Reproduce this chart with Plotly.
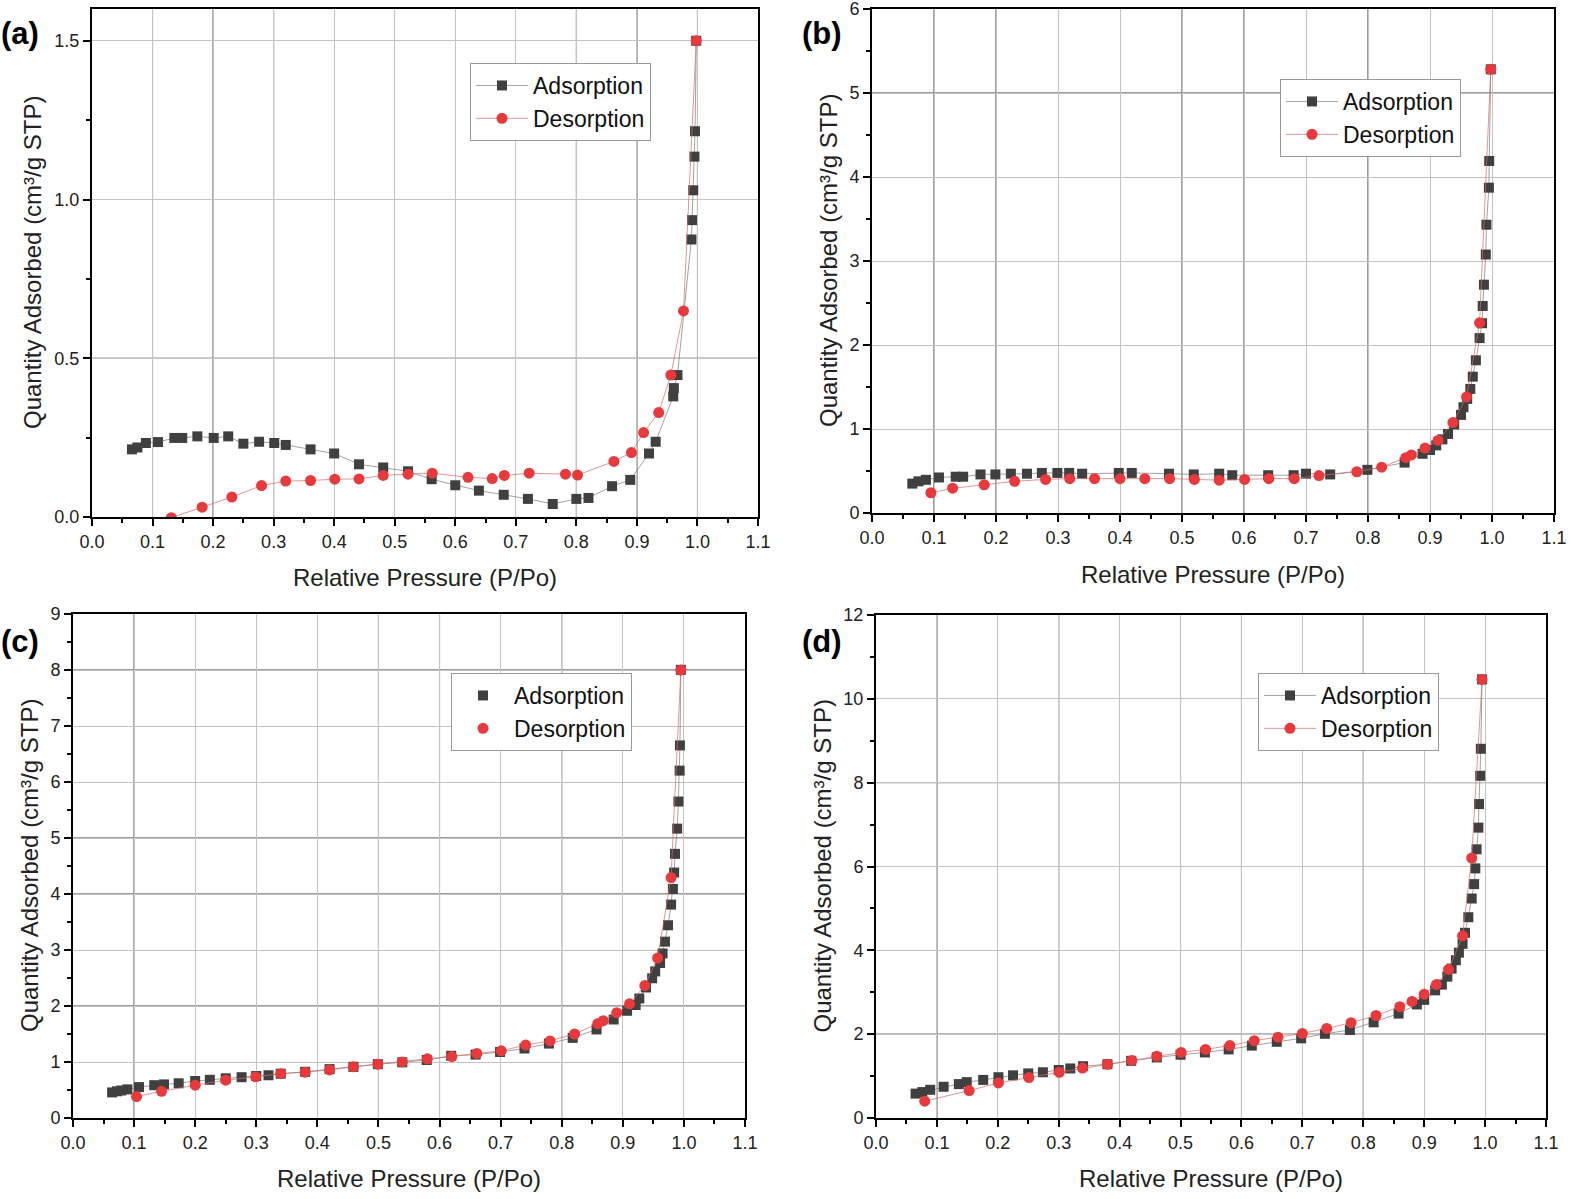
import plotly.graph_objects as go

W, H = 1571, 1199

# ---------------- data ----------------
# (a)
a_ads_x = [0.066, 0.075, 0.089, 0.109, 0.136, 0.149, 0.174, 0.201, 0.225, 0.250, 0.276, 0.301, 0.320,
           0.361, 0.400, 0.441, 0.481, 0.522, 0.561, 0.600, 0.639, 0.680, 0.720, 0.761, 0.800, 0.820,
           0.859, 0.889, 0.920, 0.931, 0.960, 0.961, 0.967, 0.990, 0.991, 0.993, 0.995, 0.996, 0.998]
a_ads_y = [0.213, 0.219, 0.233, 0.236, 0.249, 0.249, 0.254, 0.249, 0.254, 0.231, 0.237, 0.233, 0.227,
           0.213, 0.200, 0.166, 0.156, 0.144, 0.119, 0.100, 0.083, 0.070, 0.057, 0.041, 0.057, 0.060,
           0.097, 0.117, 0.200, 0.237, 0.380, 0.406, 0.447, 0.874, 0.935, 1.029, 1.135, 1.215, 1.500]
a_des_x = [0.998, 0.977, 0.956, 0.936, 0.911, 0.891, 0.862, 0.802, 0.782, 0.722, 0.681, 0.661, 0.621,
           0.562, 0.522, 0.481, 0.441, 0.401, 0.361, 0.320, 0.280, 0.231, 0.182, 0.131]
a_des_y = [1.500, 0.649, 0.447, 0.329, 0.266, 0.203, 0.175, 0.132, 0.135, 0.138, 0.131, 0.121, 0.125,
           0.138, 0.135, 0.131, 0.120, 0.119, 0.115, 0.113, 0.099, 0.063, 0.031, -0.002]

# (b)
b_ads_x = [0.065, 0.075, 0.087, 0.108, 0.135, 0.147, 0.175, 0.199, 0.224, 0.250, 0.274, 0.299, 0.318,
           0.339, 0.398, 0.419, 0.479, 0.519, 0.560, 0.581, 0.639, 0.680, 0.700, 0.739, 0.799, 0.859,
           0.888, 0.900, 0.910, 0.920, 0.929, 0.939, 0.950, 0.954, 0.960, 0.965, 0.969, 0.974, 0.980,
           0.984, 0.985, 0.987, 0.990, 0.991, 0.995, 0.9955, 0.998]
b_ads_y = [0.35, 0.377, 0.395, 0.423, 0.432, 0.432, 0.459, 0.459, 0.468, 0.468, 0.477, 0.477, 0.477,
           0.468, 0.477, 0.477, 0.468, 0.459, 0.468, 0.45, 0.45, 0.45, 0.468, 0.459, 0.514, 0.60,
           0.705, 0.75, 0.805, 0.877, 0.941, 1.055, 1.168, 1.259, 1.359, 1.477, 1.623, 1.818, 2.082,
           2.259, 2.464, 2.718, 3.077, 3.432, 3.873, 4.191, 5.282]
b_des_x = [0.998, 0.980, 0.959, 0.937, 0.913, 0.892, 0.870, 0.861, 0.822, 0.782, 0.721, 0.681, 0.640,
           0.601, 0.560, 0.520, 0.480, 0.440, 0.400, 0.359, 0.319, 0.280, 0.230, 0.181, 0.130, 0.095]
b_des_y = [5.282, 2.264, 1.382, 1.077, 0.864, 0.773, 0.691, 0.659, 0.545, 0.491, 0.445, 0.409, 0.409,
           0.40, 0.391, 0.40, 0.409, 0.409, 0.409, 0.409, 0.409, 0.40, 0.377, 0.336, 0.295, 0.241]

# (c)
c_ads_x = [0.064, 0.072, 0.079, 0.089, 0.108, 0.133, 0.149, 0.173, 0.200, 0.224, 0.250, 0.276, 0.300,
           0.320, 0.340, 0.380, 0.420, 0.459, 0.499, 0.539, 0.579, 0.619, 0.659, 0.699, 0.739, 0.779,
           0.818, 0.857, 0.885, 0.907, 0.921, 0.927, 0.938, 0.948, 0.953, 0.961, 0.965, 0.969, 0.974,
           0.979, 0.982, 0.984, 0.9854, 0.989, 0.991, 0.993, 0.9935, 0.995]
c_ads_y = [0.457, 0.477, 0.491, 0.511, 0.552, 0.586, 0.600, 0.620, 0.661, 0.682, 0.709, 0.729, 0.750,
           0.763, 0.791, 0.825, 0.873, 0.913, 0.961, 0.995, 1.036, 1.111, 1.132, 1.179, 1.241, 1.329,
           1.431, 1.581, 1.759, 1.915, 2.018, 2.134, 2.331, 2.495, 2.618, 2.768, 2.938, 3.149, 3.442,
           3.811, 4.09, 4.383, 4.717, 5.167, 5.651, 6.203, 6.653, 8.003]
c_des_x = [0.995, 0.979, 0.957, 0.936, 0.911, 0.890, 0.868, 0.859, 0.821, 0.781, 0.741, 0.701, 0.661,
           0.620, 0.580, 0.539, 0.499, 0.459, 0.420, 0.380, 0.340, 0.299, 0.250, 0.200, 0.145, 0.104]
c_des_y = [8.0, 4.294, 2.856, 2.365, 2.038, 1.881, 1.738, 1.684, 1.50, 1.377, 1.302, 1.20, 1.152,
           1.097, 1.057, 1.002, 0.961, 0.913, 0.859, 0.818, 0.791, 0.736, 0.675, 0.586, 0.477, 0.382]

# (d)
d_ads_x = [0.065, 0.076, 0.089, 0.111, 0.136, 0.149, 0.176, 0.201, 0.225, 0.250, 0.274, 0.300, 0.319,
           0.340, 0.380, 0.419, 0.461, 0.500, 0.540, 0.579, 0.617, 0.658, 0.698, 0.737, 0.778, 0.817,
           0.858, 0.888, 0.900, 0.918, 0.929, 0.938, 0.945, 0.952, 0.957, 0.963, 0.967, 0.9725, 0.978,
           0.982, 0.984, 0.986, 0.989, 0.990, 0.992, 0.993, 0.995]
d_ads_y = [0.582, 0.618, 0.673, 0.745, 0.809, 0.855, 0.909, 0.973, 1.018, 1.064, 1.091, 1.145, 1.182,
           1.236, 1.282, 1.364, 1.445, 1.509, 1.564, 1.636, 1.727, 1.818, 1.90, 2.009, 2.10, 2.282,
           2.491, 2.709, 2.818, 3.045, 3.182, 3.373, 3.564, 3.764, 3.945, 4.155, 4.418, 4.79, 5.236,
           5.58, 5.955, 6.41, 6.927, 7.49, 8.164, 8.809, 10.464]
d_des_x = [0.995, 0.978, 0.963, 0.940, 0.920, 0.900, 0.880, 0.860, 0.821, 0.780, 0.740, 0.700, 0.660,
           0.621, 0.581, 0.541, 0.501, 0.461, 0.420, 0.380, 0.339, 0.301, 0.251, 0.201, 0.153, 0.080]
d_des_y = [10.464, 6.20, 4.345, 3.545, 3.182, 2.955, 2.782, 2.655, 2.445, 2.273, 2.136, 2.018, 1.927,
           1.845, 1.727, 1.636, 1.564, 1.473, 1.373, 1.282, 1.191, 1.091, 0.964, 0.836, 0.655, 0.40]

panel_labels = ["(a)", "(b)", "(c)", "(d)"]
series_names = ["Adsorption", "Desorption"]
x_title = "Relative Pressure (P/Po)"
y_title = "Quantity Adsorbed (cm³/g STP)"

# grid lines that appear dark in the original scan (tick values)
dark_vx = [[0.1, 0.2, 0.3, 0.8, 0.9, 1.0], [0.1, 0.2, 0.5, 0.6, 0.8], [0.1, 0.5, 0.6, 0.8], [0.1, 0.3, 0.5, 0.6, 0.8]]
dark_hy = [[0.5, 1.0], [5], [2, 4, 5, 8], [2, 8]]

# ---------------- layout geometry (pixels) ----------------
boxes = [  # left, right, top, bottom
    (92, 758, 9, 517),
    (872, 1554, 9, 513),
    (73, 745, 614, 1118),
    (876, 1546, 615, 1118),
]
yranges = [[0, 1.6], [0, 6], [0, 9], [0, 12]]
ydticks = [0.5, 1, 1, 2]
yfmt = [".1f", "d", "d", "d"]
legend_pos = [(470, 63), (1280, 79), (451, 673), (1258, 673)]
label_pos = [(20, 33), (822, 33), (20, 641), (822, 641)]
ytitle_x = [32, 828, 30, 822]
xtitle_y = [577, 575, 1178, 1178]

data = [
    (a_ads_x, a_ads_y, a_des_x, a_des_y),
    (b_ads_x, b_ads_y, b_des_x, b_des_y),
    (c_ads_x, c_ads_y, c_des_x, c_des_y),
    (d_ads_x, d_ads_y, d_des_x, d_des_y),
]

FONT = "Liberation Sans, Arial, sans-serif"
SQ = "#404040"
RED = "#e8393c"

fig = go.Figure()
layout = dict(
    width=W, height=H,
    margin=dict(l=0, r=0, t=0, b=0, autoexpand=False),
    paper_bgcolor="white", plot_bgcolor="white",
    font=dict(family=FONT, color="#222"),
    showlegend=True,
)
annotations = []
shapes = []

for i in range(4):
    n = "" if i == 0 else str(i + 1)
    xa, ya = "x" + n, "y" + n
    leg = "legend" if i == 0 else "legend" + str(i + 1)
    axs, ays, dxs, dys = data[i]
    show_line_in_legend = i != 2
    fig.add_trace(go.Scatter(
        x=axs, y=ays, mode="lines+markers", name=series_names[0],
        xaxis=xa, yaxis=ya, legend=leg, showlegend=show_line_in_legend,
        line=dict(color="#7a7a7a", width=0.7),
        marker=dict(symbol="square", size=10, color=SQ),
    ))
    fig.add_trace(go.Scatter(
        x=dxs, y=dys, mode="lines+markers", name=series_names[1],
        xaxis=xa, yaxis=ya, legend=leg, showlegend=show_line_in_legend,
        line=dict(color="#d46a6a", width=0.7),
        marker=dict(symbol="circle", size=11, color=RED),
    ))
    if not show_line_in_legend:
        fig.add_trace(go.Scatter(x=[None], y=[None], mode="markers", name=series_names[0],
                                 xaxis=xa, yaxis=ya, legend=leg,
                                 marker=dict(symbol="square", size=10, color=SQ)))
        fig.add_trace(go.Scatter(x=[None], y=[None], mode="markers", name=series_names[1],
                                 xaxis=xa, yaxis=ya, legend=leg,
                                 marker=dict(symbol="circle", size=11, color=RED)))

    l, r, t, b = boxes[i]
    xdom = [l / W, r / W]
    ydom = [1 - b / H, 1 - t / H]
    common = dict(
        showline=True, linecolor="black", linewidth=2, mirror=True,
        ticks="outside", ticklen=7, tickwidth=1.5, tickcolor="black",
        showgrid=True, gridcolor="#c4c4c4", gridwidth=1,
        zeroline=False, automargin=False, ticklabeloverflow="allow",
        tickfont=dict(size=18, family=FONT, color="#222"),
    )
    layout["xaxis" + n] = dict(
        common, domain=xdom, range=[0, 1.1], dtick=0.1, tick0=0, tickformat=".1f",
        anchor=ya,
        minor=dict(ticks="outside", ticklen=4, tickwidth=1.5, tickcolor="black", dtick=0.05, showgrid=False),
    )
    layout["yaxis" + n] = dict(
        common, domain=ydom, range=yranges[i], dtick=ydticks[i], tick0=0, tickformat=yfmt[i],
        anchor=xa,
        minor=dict(ticks="outside", ticklen=4, tickwidth=1.5, tickcolor="black",
                   dtick=ydticks[i] / 2, showgrid=False),
    )
    lx, ly = legend_pos[i]
    layout[leg] = dict(
        x=lx / W, y=1 - ly / H, xanchor="left", yanchor="top",
        bgcolor="white", bordercolor="#9a9a9a", borderwidth=1,
        font=dict(size=23, family=FONT, color="#111"),
        tracegroupgap=0, itemwidth=52,
    )
    for v in dark_vx[i]:
        shapes.append(dict(type="line", xref=xa, yref=ya + " domain", x0=v, x1=v, y0=0, y1=1,
                           line=dict(color="#3a3a3a", width=1), layer="below"))
    for v in dark_hy[i]:
        shapes.append(dict(type="line", xref=xa + " domain", yref=ya, x0=0, x1=1, y0=v, y1=v,
                           line=dict(color="#3a3a3a", width=1), layer="below"))

    px, py = label_pos[i]
    annotations.append(dict(text="<b>" + panel_labels[i] + "</b>", xref="paper", yref="paper",
                            x=px / W, y=1 - py / H, xanchor="center", yanchor="middle",
                            showarrow=False, font=dict(size=31, family=FONT, color="black")))
    annotations.append(dict(text=y_title, xref="paper", yref="paper",
                            x=ytitle_x[i] / W, y=1 - (t + b) / 2 / H, textangle=-90,
                            xanchor="center", yanchor="middle", showarrow=False,
                            font=dict(size=24, family=FONT, color="#222")))
    annotations.append(dict(text=x_title, xref="paper", yref="paper",
                            x=(l + r) / 2 / W, y=1 - xtitle_y[i] / H,
                            xanchor="center", yanchor="middle", showarrow=False,
                            font=dict(size=24, family=FONT, color="#222")))

layout["annotations"] = annotations
layout["shapes"] = shapes
fig.update_layout(**layout)
fig.write_html("out.html",
               config={"displayModeBar": False},
               post_script="document.body.style.margin='0';document.body.style.overflow='hidden';")
